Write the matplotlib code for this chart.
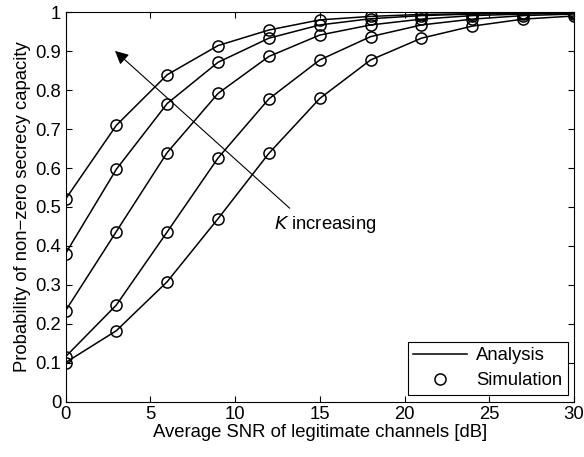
import matplotlib
matplotlib.use("Agg")
import matplotlib.pyplot as plt
import numpy as np

plt.rcParams['font.family'] = ['Liberation Sans', 'DejaVu Sans']
plt.rcParams['font.size'] = 13.3

snr_db = [0, 3, 6, 9, 12, 15, 18, 21, 24, 27, 30]

# one curve per K value, top curve = largest K
prob_k5 = [0.52, 0.71, 0.84, 0.915, 0.955, 0.981, 0.990, 0.995, 0.997, 0.999, 1.0]
prob_k4 = [0.38, 0.597, 0.766, 0.872, 0.934, 0.968, 0.984, 0.992, 0.996, 0.998, 0.999]
prob_k3 = [0.233, 0.437, 0.64, 0.792, 0.887, 0.942, 0.968, 0.983, 0.992, 0.996, 0.998]
prob_k2 = [0.115, 0.248, 0.436, 0.626, 0.778, 0.878, 0.938, 0.968, 0.983, 0.992, 0.996]
prob_k1 = [0.10, 0.182, 0.308, 0.47, 0.638, 0.779, 0.878, 0.934, 0.965, 0.983, 0.991]

curves = [prob_k5, prob_k4, prob_k3, prob_k2, prob_k1]


def main():
    fig = plt.figure(figsize=(5.84, 4.57), dpi=100)
    ax = fig.add_axes([65.5 / 584, 1 - 401.5 / 457, 508.5 / 584, 389 / 457])

    for i, values in enumerate(curves):
        ax.plot(snr_db, values, color='black', linewidth=1.1,
                label='Analysis' if i == 0 else None)
        ax.plot(snr_db, values, linestyle='none', marker='o', markersize=8,
                markerfacecolor='none', markeredgecolor='black',
                markeredgewidth=1.1,
                label='Simulation' if i == 0 else None)

    ax.set_xlim(0, 30)
    ax.set_ylim(0, 1)
    ax.set_xticks(np.arange(0, 31, 5))
    ax.set_yticks(np.arange(0, 1.01, 0.1))
    ax.set_yticklabels(['0', '0.1', '0.2', '0.3', '0.4', '0.5', '0.6',
                        '0.7', '0.8', '0.9', '1'])
    ax.tick_params(direction='in', top=True, right=True, length=4,
                   width=0.8, pad=3)
    for spine in ax.spines.values():
        spine.set_linewidth(0.8)

    ax.set_xlabel('Average SNR of legitimate channels [dB]', labelpad=1)
    ax.set_ylabel('Probability of non\u2212zero secrecy capacity', labelpad=3)

    ax.annotate('', xy=(2.8, 0.906), xytext=(13.35, 0.492),
                arrowprops=dict(arrowstyle='-|>', color='black', lw=0.8,
                                mutation_scale=20))
    ax.text(12.3, 0.456, r'$\mathit{K}$ increasing', va='center', ha='left')

    leg = ax.legend(loc='lower right', fancybox=False, framealpha=1,
                    edgecolor='black', borderaxespad=0.35, handlelength=2.9,
                    handletextpad=0.5, borderpad=0.3, labelspacing=0.45)
    leg.get_frame().set_linewidth(0.8)

    fig.savefig('out.png', dpi=100)


if __name__ == "__main__":
    main()
